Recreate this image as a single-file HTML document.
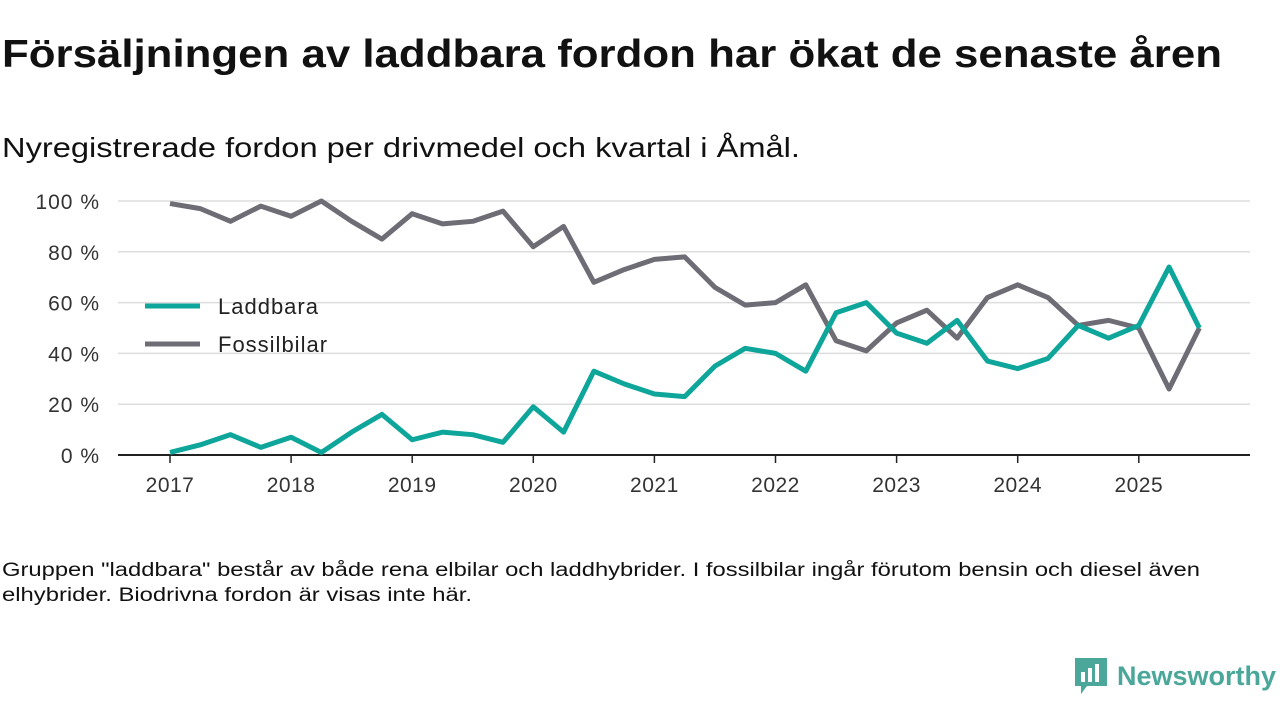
<!DOCTYPE html>
<html><head><meta charset="utf-8"><style>
body{margin:0;width:1280px;height:720px;background:#fff;font-family:"Liberation Sans","DejaVu Sans",sans-serif;color:#111;position:relative;overflow:hidden}
.t{position:absolute;left:2px;white-space:nowrap;transform-origin:0 0}
</style></head><body>
<div class="t" id="title" style="top:33px;font-size:39px;font-weight:bold;">Försäljningen av laddbara fordon har ökat de senaste åren</div>
<div class="t" id="sub" style="top:132px;font-size:28px;">Nyregistrerade fordon per drivmedel och kvartal i Åmål.</div>
<svg id="chart" width="1280" height="520" style="position:absolute;left:0;top:0"></svg>
<div class="t" id="f1" style="top:560px;font-size:19px;">Gruppen "laddbara" består av både rena elbilar och laddhybrider. I fossilbilar ingår förutom bensin och diesel även</div>
<div class="t" id="f2" style="top:585px;font-size:19px;">elhybrider. Biodrivna fordon är visas inte här.</div>
<div style="position:absolute;left:1073px;top:656px;display:flex;align-items:center;">
<svg width="36" height="40" viewBox="0 0 36 40"><path d="M2 2h32v28H14l-6 8v-8H2z" fill="#4aa79a"/><rect x="8" y="16" width="4" height="10" fill="#fff"/><rect x="15" y="12" width="4" height="14" fill="#fff"/><rect x="22" y="8" width="4" height="18" fill="#fff"/></svg>
<span style="font-size:27px;font-weight:bold;color:#4aa79a;margin-left:8px">Newsworthy</span></div>
<script>
const years=[2017,2018,2019,2020,2021,2022,2023,2024,2025];
const yTicks=[0,20,40,60,80,100];
const laddbara=[1,4,8,3,7,1,9,16,6,9,8,5,19,9,33,28,24,23,35,42,40,33,56,60,48,44,53,37,34,38,51,46,51,74,50];
const fossil=[99,97,92,98,94,100,92,85,95,91,92,96,82,90,68,73,77,78,66,59,60,67,45,41,52,57,46,62,67,62,51,53,50,26,50];
const NS="http://www.w3.org/2000/svg",svg=document.getElementById('chart');
const X=v=>170+(v-2017)*121.1, Y=v=>455-v*2.54;
function el(t,a){const e=document.createElementNS(NS,t);for(const k in a)e.setAttribute(k,a[k]);svg.appendChild(e);return e;}
yTicks.forEach(v=>{
 const g=el('line',{x1:118,x2:1250,y1:Y(v),y2:Y(v),stroke:v?'#ddd':'#222','stroke-width':v?1.5:2});
 
 
 const t=el('text',{x:100,y:Y(v)+8,'text-anchor':'end','font-size':21,fill:'#333','letter-spacing':1});t.textContent=v+' %';
 
 
});
years.forEach(y=>{
 const l=el('line',{x1:X(y),x2:X(y),y1:455,y2:463,stroke:'#222','stroke-width':1.5});
 
 
 const t=el('text',{x:X(y),y:492,'text-anchor':'middle','font-size':21,fill:'#333','letter-spacing':0.5});t.textContent=y;
 
 
});
function series(d,c,n){
 const p=el('polyline',{points:d.map((v,i)=>X(2017+i/4)+','+Y(v)).join(' '),fill:'none',stroke:c,'stroke-width':5,'stroke-linejoin':'round'});
 
 
}
series(fossil,'#6e6c75','fossilbilar-line');
series(laddbara,'#0ea59a','laddbara-line');
[['Laddbara','#0ea59a',306],['Fossilbilar','#6e6c75',344]].forEach(([n,c,y])=>{
 const l=el('line',{x1:145,x2:200,y1:y,y2:y,stroke:c,'stroke-width':5});
 
 
 const t=el('text',{x:218,y:y+8,'font-size':22,fill:'#222','letter-spacing':1});t.textContent=n;
 
 
});
function fit(id,w){const e=document.getElementById(id);const a=e.getBoundingClientRect().width;e.style.transform='scaleX('+(w/a)+')';}
fit('title',1220);fit('sub',798);fit('f1',1198);fit('f2',470);
</script>
</body></html>
